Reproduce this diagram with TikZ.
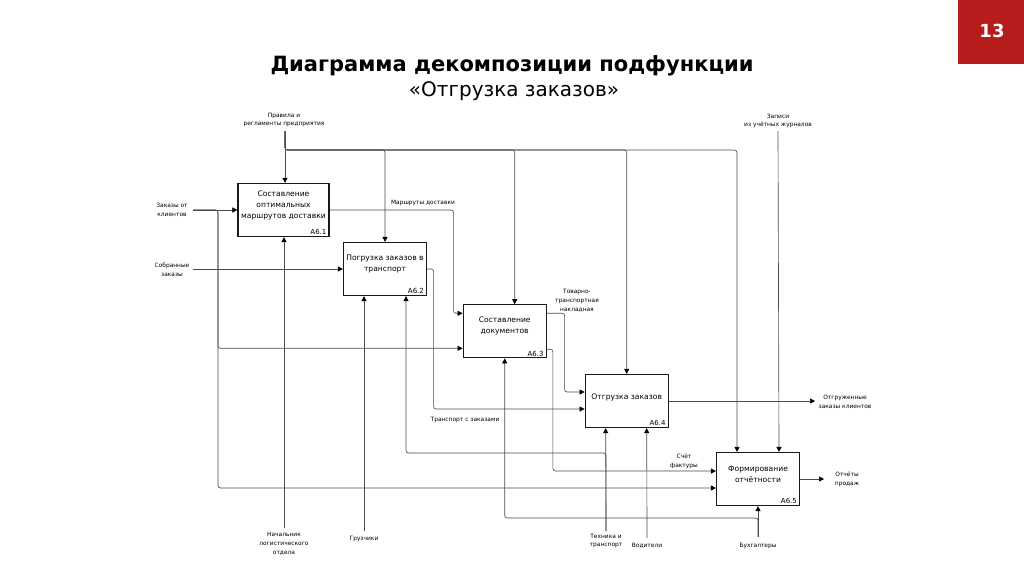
\documentclass[tikz,border=0pt]{standalone}
\usepackage{fontspec}
\setmainfont{DejaVu Sans}
\usetikzlibrary{arrows.meta,calc}
\definecolor{slidered}{RGB}{183,28,28}
\begin{document}
\begin{tikzpicture}[x=1pt,y=-1pt,
  box/.style={draw=black!90,line width=1.2pt,minimum width=83pt,minimum height=53pt,inner sep=0pt,fill=white},
  btext/.style={font=\fontsize{7.6}{11}\selectfont,align=center,inner sep=0pt},
  lbl/.style={font=\fontsize{5.9}{8.8}\selectfont,align=center,inner sep=0pt},
  conn/.style={draw=black!70,line width=0.65pt,rounded corners=2.5pt},
  arr/.style={conn,-{Triangle[length=5pt,width=5pt,color=black]}},
  idn/.style={font=\fontsize{7}{8}\selectfont,inner sep=0pt,anchor=south east}
]
\fill[white] (0,0) rectangle (1024,574);
\useasboundingbox (0,0) rectangle (1024,574);

% slide header
\fill[slidered] (958,0) rectangle (1024,64);
\node[white,font=\fontsize{18}{20}\selectfont\bfseries] (pg) at (992,31) {13};
\node[font=\fontsize{21}{24}\selectfont\bfseries] (title1) at (512,66) {Диаграмма декомпозиции подфункции};
\node[font=\fontsize{20}{24}\selectfont] (title2) at (514,91) {«Отгрузка заказов»};

% boxes
\node[box,minimum width=91pt] (b1) at (283.5,210) {};
\node[box] (b2) at (385,269) {};
\node[box] (b3) at (504.7,331.3) {};
\node[box] (b4) at (626.7,401) {};
\node[box] (b5) at (758,479) {};
\node[btext] (b1t) at ($(b1)+(0,-5)$) {Составление\\оптимальных\\маршрутов доставки};
\node[btext] (b2t) at ($(b2)+(0,-5)$) {Погрузка заказов в\\транспорт};
\node[btext] (b3t) at ($(b3)+(0,-5)$) {Составление\\документов};
\node[btext] (b4t) at ($(b4)+(0,-4)$) {Отгрузка заказов};
\node[btext] (b5t) at ($(b5)+(0,-5)$) {Формирование\\отчётности};
\node[idn] (b1i) at ($(b1.south east)+(-3,-2)$) {A6.1};
\node[idn] (b2i) at ($(b2.south east)+(-3,-2)$) {A6.2};
\node[idn] (b3i) at ($(b3.south east)+(-3,-2)$) {A6.3};
\node[idn] (b4i) at ($(b4.south east)+(-3,-2)$) {A6.4};
\node[idn] (b5i) at ($(b5.south east)+(-3,-2)$) {A6.5};

% labels
\node[lbl] (lpr) at (284,120) {Правила и\\регламенты предприятия};
\node[lbl] (lzp) at (778,121) {Записи\\из учётных журналов};
\node[lbl] (lzk) at (172,209.5) {Заказы от\\клиентов};
\node[lbl] (lsz) at (172,269.5) {Собранные\\заказы};
\node[lbl] (lmd) at (423,203) {Маршруты доставки};
\node[lbl] (ltt) at (577,300.5) {Товарно-\\транспортная\\накладная};
\node[lbl] (ltz) at (465,419.5) {Транспорт с заказами};
\node[lbl] (lsf) at (684,461) {Счёт\\фактуры};
\node[lbl] (log) at (845,401.5) {Отгруженные\\заказы клиентов};
\node[lbl] (lop) at (847,479.5) {Отчёты\\продаж};
\node[lbl] (lnl) at (284,544) {Начальник\\логистического\\отдела};
\node[lbl] (lgr) at (364,539) {Грузчики};
\node[lbl] (ltr) at (606,541) {Техника и\\транспорт};
\node[lbl] (lvd) at (647,545.5) {Водители};
\node[lbl] (lbh) at (758,545.5) {Бухгалтеры};

% port coordinates
\coordinate (b3in1) at ($(b3.west)+(0,-18)$);
\coordinate (b3in2) at ($(b3.west)+(0,17)$);
\coordinate (b4in1) at ($(b4.west)+(0,-9)$);
\coordinate (b4in2) at ($(b4.west)+(0,8)$);
\coordinate (b5in1) at ($(b5.west)+(0,-8)$);
\coordinate (b5in2) at ($(b5.west)+(0,9)$);
\coordinate (b3o1) at ($(b3.east)+(0,-18)$);
\coordinate (b3o2) at ($(b3.east)+(0,18)$);
\coordinate (b2m1) at ($(b2.south)+(-21,0)$);
\coordinate (b2m2) at ($(b2.south)+(21,0)$);
\coordinate (b4m1) at ($(b4.south)+(-21,0)$);
\coordinate (b4m2) at ($(b4.south)+(20,0)$);
\coordinate (b5c1) at ($(b5.north)+(-21,0)$);
\coordinate (b5c2) at ($(b5.north)+(21,0)$);
\coordinate (b3c) at ($(b3.north)+(10,0)$);

% free ends
\coordinate (pr) at (285,131);
\coordinate (ctl) at (285,150);
\coordinate (zp) at (778,131);
\coordinate (zk) at (193,210);
\coordinate (zkj) at (218,210);
\coordinate (sz) at (193,269);
\coordinate (og) at (815,401);
\coordinate (op) at (824,479);
\coordinate (nl) at (284,528);
\coordinate (gr) at (364,531);
\coordinate (tt) at (606,531);
\coordinate (ttj) at (606,453);
\coordinate (vd) at (647,538);
\coordinate (bh) at (758,537);
\coordinate (bhj) at (758,518);

% controls
\draw[arr] (pr) -- (pr |- b1.north);
\draw[arr] (pr) -- (ctl) -| (b2.north);
\draw[arr] (pr) -- (ctl) -| (b3c);
\draw[arr] (pr) -- (ctl) -| (b4.north);
\draw[arr] (pr) -- (ctl) -| (b5c1);
\draw[arr] (zp) -- (b5c2);

% inputs
\draw[arr] (zk) -- (b1.west);
\draw[arr] (zk) -- (zkj) |- (b3in2);
\draw[arr] (zk) -- (zkj) |- (b5in2);
\draw[arr] (sz) -- (b2.west);

% internal flows
\draw[arr] (b1.east) -| ($(b3in1)+(-9,0)$) -- (b3in1);
\draw[arr] (b2.east) -| ($(b4in2)+(-151,0)$) -- (b4in2);
\draw[arr] (b3o1) -| ($(b4in1)+(-20,0)$) -- (b4in1);
\draw[arr] (b3o2) -| ($(b5in1)+(-163,0)$) -- (b5in1);

% outputs
\draw[arr] (b4.east) -- (og);
\draw[arr] (b5.east) -- (op);

% mechanisms
\draw[arr] (nl) -- (nl |- b1.south);
\draw[arr] (gr) -- (b2m1);
\draw[arr] (tt) -- (b4m1);
\draw[arr] (tt) -- (ttj) -| (b2m2);
\draw[arr] (vd) -- (b4m2);
\draw[arr] (bh) -- (b5.south);
\draw[arr] (bh) -- (bhj) -| (b3.south);
\end{tikzpicture}
\end{document}
